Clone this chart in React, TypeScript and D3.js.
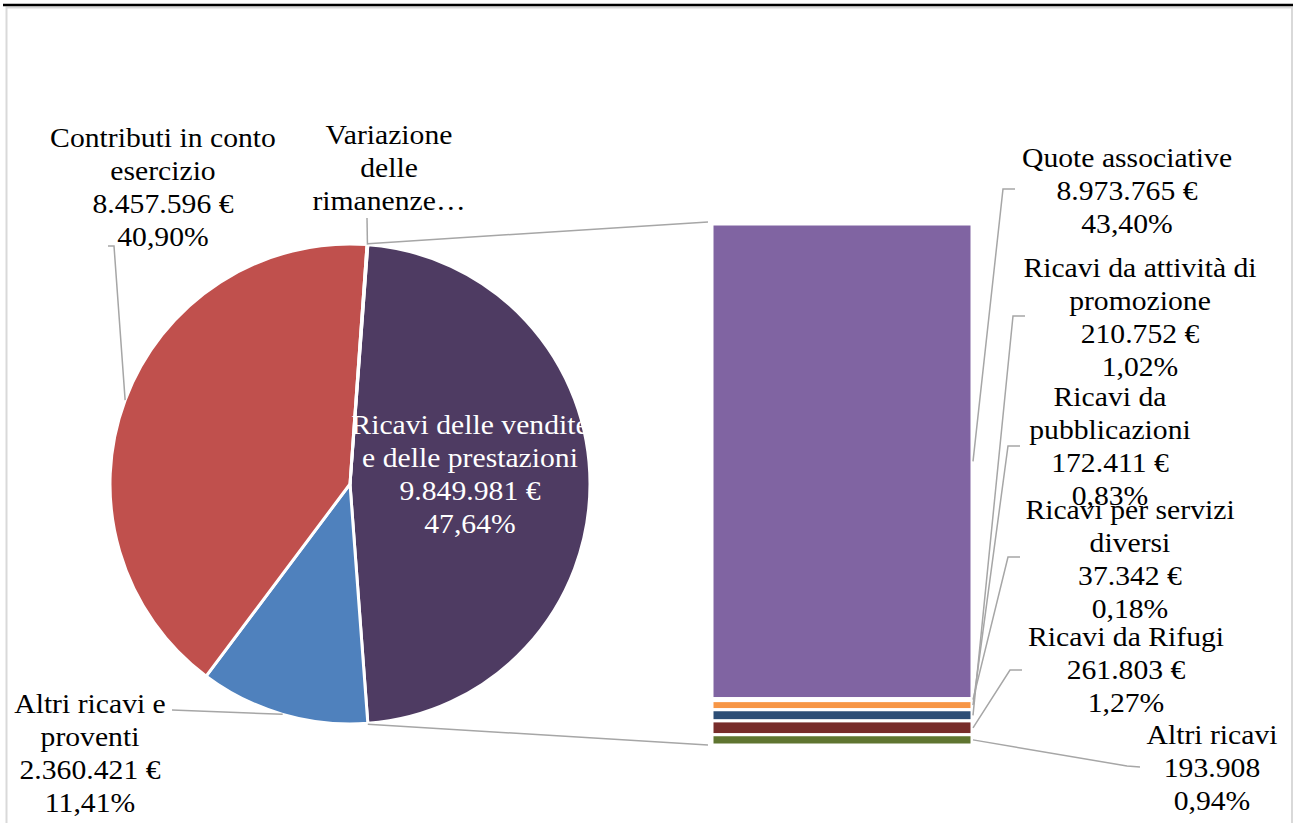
import React from 'react';
import * as d3 from 'd3';

// ---------- DATA ----------
const pieNames = [
  'Ricavi delle vendite e delle prestazioni',
  'Altri ricavi e proventi',
  'Contributi in conto esercizio',
  'Variazione delle rimanenze',
];
const pieValues = [9849981, 2360421, 8457596, 10700];
const pieColors = ['#4E3B62', '#4F81BD', '#C0504D', '#9BBB59'];
const pieLabelLines = [
  ['Ricavi delle vendite', 'e delle prestazioni', '9.849.981 €', '47,64%'],
  ['Altri ricavi e', 'proventi', '2.360.421 €', '11,41%'],
  ['Contributi in conto', 'esercizio', '8.457.596 €', '40,90%'],
  ['Variazione', 'delle', 'rimanenze…'],
];

const barNames = [
  'Quote associative',
  'Ricavi per servizi diversi',
  'Ricavi da pubblicazioni',
  'Ricavi da attività di promozione',
  'Ricavi da Rifugi',
  'Altri ricavi',
];
const barValues = [8973765, 37342, 172411, 210752, 261803, 193908];
const barColors = ['#8064A2', '#4BACC6', '#F79646', '#2C4D75', '#772C2A', '#5F7530'];
const barLabelLines = [
  ['Quote associative', '8.973.765 €', '43,40%'],
  ['Ricavi per servizi', 'diversi', '37.342 €', '0,18%'],
  ['Ricavi da', 'pubblicazioni', '172.411 €', '0,83%'],
  ['Ricavi da attività di', 'promozione', '210.752 €', '1,02%'],
  ['Ricavi da Rifugi', '261.803 €', '1,27%'],
  ['Altri ricavi', '193.908', '0,94%'],
];

// ---------- LAYOUT ----------
const W = 1296;
const H = 823;
const CX = 350;
const CY = 484;
const R = 240;
const BAR_X0 = 712;
const BAR_X1 = 972;
const BAR_Y0 = 224;
const BAR_Y1 = 745;
const FONT = '"Liberation Serif", "Times New Roman", serif';
const FS = 26.5;
const LH = 33;
const SX = 1.12;

// label anchor positions (center x, first baseline) for pie labels by index
const pieLabelPos: [number, number][] = [
  [470, 434],
  [90, 713],
  [163, 147],
  [389, 144],
];
// leader start points for pie labels (null = none)
const pieLeaderStart: ([number, number][] | null)[] = [
  null,
  [[172, 710]],
  [[108, 246], [114, 246]],
  [[367, 218]],
];

const barLabelPos: [number, number][] = [
  [1127, 167],
  [1130, 519],
  [1110, 406],
  [1140, 277],
  [1126, 646],
  [1212, 744],
];
const barLeaderStart: [number, number][][] = [
  [[1015, 189], [1003, 189]],
  [[1020, 557], [1008, 557]],
  [[1020, 446], [1008, 446]],
  [[1025, 316], [1013, 316]],
  [[1022, 670], [1010, 670]],
  [[1140, 767], [1127, 766]],
];

function Label({ x, y, lines, fill = '#000' }: { x: number; y: number; lines: string[]; fill?: string }) {
  return (
    <g transform={`translate(${x},${y})`}>
      <text
        transform={`scale(${SX},1)`}
        textAnchor="middle"
        fontFamily={FONT}
        fontSize={FS}
        fill={fill}
      >
        {lines.map((l, i) => (
          <tspan key={i} x={0} y={i * LH}>
            {l}
          </tspan>
        ))}
      </text>
    </g>
  );
}

export default function App() {
  const total = d3.sum(pieValues);
  const a0 = (2 * Math.PI * pieValues[0]) / total;
  const start = Math.PI / 2 - a0 / 2;
  const pie = d3
    .pie<number>()
    .sort(null)
    .value((d) => d)
    .startAngle(start)
    .endAngle(start + 2 * Math.PI);
  const arcs = pie(pieValues);
  const arc = d3.arc<d3.PieArcDatum<number>>().innerRadius(0).outerRadius(R);

  const polar = (ang: number, r: number): [number, number] => [
    CX + r * Math.sin(ang),
    CY - r * Math.cos(ang),
  ];

  const composite = d3.sum(barValues);
  const y = d3.scaleLinear().domain([0, composite]).range([BAR_Y0, BAR_Y1]);
  const cum = d3.cumsum(barValues);
  const segs = barValues.map((v, i) => {
    const top = y(cum[i] - v);
    const bot = y(cum[i]);
    return { top, bot, mid: (top + bot) / 2 };
  });

  const line = d3.line();

  const compStart = polar(arcs[0].startAngle, R);
  const compEnd = polar(arcs[0].endAngle, R);

  return (
    <svg
      width={W}
      height={H}
      style={{ position: 'absolute', left: 0, top: 0, background: '#fff' }}
    >
      <rect x={0} y={0} width={W} height={H} fill="#fff" />
      {/* chart frame */}
      <rect x={6.5} y={7.5} width={1285.5} height={900} fill="none" stroke="#D9D9D9" strokeWidth={2} />
      <line x1={3} x2={1293} y1={5} y2={5} stroke="#000" strokeWidth={2.5} />

      {/* pie */}
      <g transform={`translate(${CX},${CY})`}>
        {arcs.map((a, i) => (
          <path key={i} d={arc(a) || ''} fill={pieColors[i]} stroke="#fff" strokeWidth={3} />
        ))}
      </g>

      {/* connector lines */}
      <line x1={compStart[0]} y1={compStart[1] - 1} x2={BAR_X0 - 4} y2={BAR_Y0 - 2} stroke="#A6A6A6" strokeWidth={1.5} />
      <line x1={compEnd[0]} y1={compEnd[1] + 1} x2={BAR_X0 - 4} y2={BAR_Y1} stroke="#A6A6A6" strokeWidth={1.5} />

      {/* bar */}
      {segs.map((s, i) => (
        <rect
          key={i}
          x={BAR_X0}
          y={s.top}
          width={BAR_X1 - BAR_X0}
          height={Math.max(0, s.bot - s.top)}
          fill={barColors[i]}
          stroke="#fff"
          strokeWidth={3}
        />
      ))}

      {/* pie leaders */}
      {arcs.map((a, i) => {
        const st = pieLeaderStart[i];
        if (!st) return null;
        const mid = (a.startAngle + a.endAngle) / 2;
        const end = polar(mid, R);
        return (
          <path key={i} d={line([...st, end]) || ''} fill="none" stroke="#A6A6A6" strokeWidth={1.5} />
        );
      })}

      {/* bar leaders */}
      {segs.map((s, i) => (
        <path
          key={i}
          d={line([...barLeaderStart[i], [BAR_X1 + 1, s.mid]]) || ''}
          fill="none"
          stroke="#A6A6A6"
          strokeWidth={1.5}
        />
      ))}

      {/* pie labels */}
      {pieLabelLines.map((ls, i) => (
        <Label
          key={i}
          x={pieLabelPos[i][0]}
          y={pieLabelPos[i][1]}
          lines={ls}
          fill={i === 0 ? '#fff' : '#000'}
        />
      ))}

      {/* bar labels */}
      {barLabelLines.map((ls, i) => (
        <Label key={i} x={barLabelPos[i][0]} y={barLabelPos[i][1]} lines={ls} />
      ))}
    </svg>
  );
}
